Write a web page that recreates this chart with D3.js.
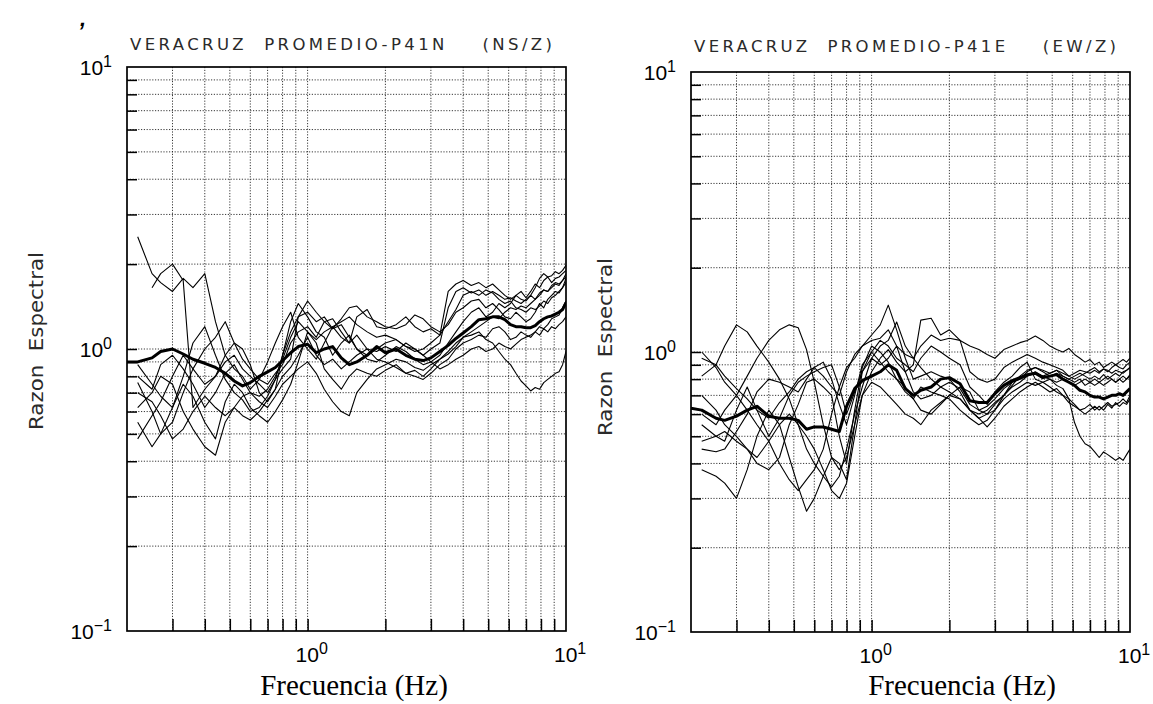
<!DOCTYPE html>
<html><head><meta charset="utf-8">
<script src="https://cdn.jsdelivr.net/npm/d3@7"></script>
<style>body{margin:0;background:#fff}svg{display:block}</style>
</head><body>
<svg id="c" width="1153" height="704"></svg>
<script>
// ---------- DATA ----------
const freqs = [0.2,0.22,0.25,0.27,0.3,0.33,0.36,0.4,0.44,0.48,
 0.52,0.56,0.6,0.65,0.7,0.75,0.8,0.86,0.92,1.0,
 1.08,1.16,1.25,1.35,1.45,1.55,1.7,1.85,
 2.0,2.2,2.4,2.6,2.8,3.0,3.25,3.5,3.75,4.0,
 4.3,4.6,4.9,5.2,5.5,5.8,6.1,6.4,6.7,7.0,
 7.3,7.6,7.9,8.2,8.5,8.8,9.1,9.4,9.7,10.0];

const panelTitles = ["VERACRUZ  PROMEDIO-P41N    (NS/Z)", "VERACRUZ  PROMEDIO-P41E    (EW/Z)"];
const xAxisTitle = "Frecuencia (Hz)";
const yAxisTitle = "Razon  Espectral";
const xDecades = [1, 10];
const xDecadeExp = ["0", "1"];
const yDecades = [10, 1, 0.1];
const yDecadeExp = ["1", "0", "\u22121"];
const xGrid = [0.3,0.4,0.5,0.6,0.7,0.8,0.9,1,2,3,4,5,6,7,8,9];
const yGrid = [0.2,0.3,0.4,0.5,0.6,0.7,0.8,0.9,1,2,3,4,5,6,7,8,9];

const nsMean = [0.90,0.90,0.93,0.98,1.00,0.96,0.92,0.89,0.86,0.82,
 0.77,0.74,0.76,0.80,0.83,0.86,0.91,0.97,1.02,1.04,
 0.97,1.00,1.02,0.93,0.88,0.90,0.95,1.02,
 0.97,1.00,0.95,0.92,0.91,0.93,0.98,1.03,1.09,1.14,
 1.20,1.27,1.28,1.30,1.30,1.27,1.22,1.20,1.20,1.19,
 1.19,1.21,1.25,1.28,1.30,1.31,1.33,1.35,1.38,1.46];
const ns1 = [null,2.50,1.85,1.72,1.60,1.78,1.65,1.85,1.25,0.95,
 0.85,0.80,0.72,0.78,0.90,1.05,1.20,1.35,1.10,1.00,
 0.92,1.05,1.20,1.10,1.05,1.30,1.38,1.20,
 1.18,1.22,1.30,1.20,1.15,1.18,1.12,1.60,1.70,1.75,
 1.68,1.72,1.65,1.70,1.62,1.55,1.50,1.55,1.50,1.48,
 1.55,1.65,1.78,1.85,1.80,1.82,1.88,1.85,1.90,1.98];
const ns2 = [null,null,1.65,1.85,2.00,1.75,0.62,0.72,0.80,0.95,
 1.05,1.00,0.88,0.70,0.65,0.72,0.95,1.25,1.45,1.30,
 1.15,1.10,0.95,1.05,1.12,1.00,0.92,0.90,
 0.95,1.02,0.98,0.92,0.88,0.90,0.95,1.05,1.15,1.25,
 1.35,1.40,1.30,1.35,1.45,1.40,1.45,1.55,1.60,1.52,
 1.60,1.70,1.65,1.75,1.80,1.72,1.78,1.80,1.85,1.90];
const ns3 = [null,0.76,0.60,0.50,0.55,0.70,0.85,1.00,1.10,1.25,
 1.05,0.92,0.85,0.78,0.75,0.82,0.88,1.05,1.15,1.20,
 1.10,1.25,1.28,1.15,1.05,1.12,1.00,0.92,
 0.90,0.86,0.82,0.84,0.80,0.85,0.92,0.98,1.05,1.10,
 1.12,1.15,1.08,1.05,0.98,0.92,0.88,0.82,0.77,0.74,
 0.71,0.73,0.72,0.76,0.78,0.80,0.82,0.83,0.88,0.98];
const ns4 = [null,0.88,0.75,0.68,0.62,0.80,1.05,1.20,0.95,0.78,
 0.70,0.66,0.60,0.62,0.68,0.78,0.85,0.92,1.30,1.48,
 1.35,1.25,1.18,1.28,1.40,1.42,1.30,1.25,
 1.20,1.18,1.22,1.32,1.28,1.20,1.15,1.22,1.35,1.40,
 1.48,1.50,1.40,1.45,1.38,1.30,1.28,1.35,1.30,1.25,
 1.28,1.35,1.45,1.40,1.50,1.55,1.60,1.58,1.65,1.78];
const ns5 = [null,0.55,0.45,0.50,0.62,0.75,0.68,0.55,0.48,0.65,
 0.75,0.70,0.62,0.58,0.55,0.60,0.66,0.75,0.90,1.15,
 1.05,0.85,0.78,0.72,0.80,0.85,0.82,0.80,
 0.84,0.88,0.82,0.80,0.78,0.82,0.88,0.92,1.00,1.05,
 1.08,1.12,1.10,1.18,1.20,1.15,1.08,1.10,1.15,1.12,
 1.10,1.15,1.20,1.18,1.22,1.28,1.30,1.32,1.40,1.48];
const ns6 = [null,0.62,0.70,0.80,0.75,0.60,0.52,0.45,0.42,0.55,
 0.62,0.68,0.70,0.65,0.62,0.68,0.75,0.80,0.85,0.90,
 0.82,0.72,0.65,0.60,0.58,0.70,0.78,0.85,
 0.88,0.92,0.90,0.86,0.84,0.88,0.92,0.96,1.02,1.10,
 1.15,1.20,1.25,1.30,1.28,1.35,1.40,1.38,1.42,1.40,
 1.45,1.50,1.55,1.62,1.60,1.68,1.72,1.70,1.75,1.85];
const ns7 = [null,0.48,0.58,0.65,0.80,0.95,0.85,0.75,0.80,0.90,
 0.95,0.85,0.80,0.75,0.70,0.78,0.95,1.15,1.30,1.35,
 1.25,1.30,1.18,1.22,1.10,1.00,0.95,1.00,
 1.05,1.08,1.02,0.98,1.00,1.05,1.12,1.25,1.38,1.55,
 1.60,1.55,1.62,1.58,1.50,1.45,1.48,1.40,1.38,1.35,
 1.40,1.38,1.42,1.48,1.45,1.52,1.55,1.60,1.65,1.72];
const ns8 = [null,0.70,0.65,0.58,0.48,0.52,0.60,0.68,0.62,0.58,
 0.62,0.58,0.56,0.60,0.66,0.72,0.80,0.86,0.95,1.10,
 0.95,0.88,0.92,0.85,0.90,0.95,1.00,0.98,
 1.02,0.98,1.05,1.00,0.95,0.90,0.85,0.88,0.92,0.95,
 1.00,1.02,0.98,1.00,1.05,1.02,1.00,1.04,1.08,1.10,
 1.12,1.15,1.12,1.18,1.15,1.20,1.18,1.22,1.25,1.30];
const ns9 = [null,0.80,0.72,0.88,0.95,0.85,0.75,0.62,0.70,0.82,
 0.88,0.78,0.70,0.68,0.72,0.80,0.92,1.10,1.25,1.15,
 1.08,1.15,1.20,1.25,1.30,1.22,1.15,1.10,
 1.12,1.08,1.02,1.00,0.95,1.00,1.05,1.40,1.60,1.65,
 1.58,1.62,1.55,1.60,1.55,1.50,1.52,1.48,1.45,1.50,
 1.55,1.50,1.58,1.62,1.60,1.65,1.70,1.68,1.75,1.80];

const ewMean = [0.63,0.62,0.58,0.57,0.59,0.62,0.64,0.59,0.58,0.58,
 0.57,0.53,0.54,0.54,0.53,0.52,0.64,0.74,0.79,0.82,
 0.85,0.90,0.86,0.74,0.70,0.73,0.75,0.80,
 0.81,0.77,0.67,0.66,0.66,0.71,0.76,0.79,0.81,0.83,
 0.84,0.81,0.82,0.83,0.80,0.78,0.76,0.73,0.72,0.70,
 0.69,0.69,0.68,0.69,0.70,0.70,0.71,0.70,0.72,0.74];
const ew1 = [null,0.95,0.90,0.82,0.74,0.68,0.62,0.58,0.66,0.72,
 0.80,0.85,0.88,0.82,0.75,0.70,0.85,0.98,1.05,1.10,
 1.12,1.20,1.05,0.98,0.95,1.05,1.15,1.10,
 1.12,1.10,1.05,1.02,0.98,0.95,1.02,1.05,1.08,1.10,
 1.14,1.10,1.05,1.02,1.00,1.03,0.98,0.95,0.92,0.94,
 0.90,0.92,0.88,0.90,0.92,0.90,0.92,0.94,0.92,0.95];
const ew2 = [null,0.82,0.90,1.05,1.25,1.18,1.05,0.92,0.80,0.68,
 0.55,0.45,0.40,0.36,0.33,0.36,0.45,0.60,0.75,0.95,
 1.05,1.10,1.28,1.05,0.95,0.88,0.80,0.75,
 0.72,0.68,0.62,0.58,0.60,0.62,0.70,0.75,0.78,0.82,
 0.85,0.82,0.84,0.86,0.82,0.80,0.82,0.84,0.82,0.80,
 0.82,0.80,0.83,0.80,0.82,0.84,0.82,0.85,0.86,0.88];
const ew3 = [null,0.60,0.55,0.62,0.70,0.82,0.95,1.10,1.20,1.25,
 1.22,1.02,0.78,0.55,0.42,0.38,0.42,0.55,0.70,0.85,
 0.95,1.02,0.92,0.85,0.90,1.30,1.32,1.15,
 1.20,1.10,0.85,0.80,0.78,0.80,0.88,0.92,0.95,0.98,
 0.95,0.92,0.90,0.88,0.86,0.82,0.80,0.82,0.84,0.86,
 0.88,0.85,0.87,0.85,0.88,0.90,0.88,0.87,0.90,0.92];
const ew4 = [null,0.45,0.44,0.45,0.52,0.60,0.72,0.80,0.78,0.75,
 0.72,0.80,0.88,0.92,0.80,0.65,0.55,0.70,0.90,1.00,
 0.92,0.85,0.80,0.72,0.68,0.75,0.72,0.70,
 0.68,0.62,0.58,0.55,0.57,0.62,0.68,0.72,0.75,0.78,
 0.76,0.78,0.75,0.72,0.70,0.68,0.65,0.62,0.63,0.65,
 0.62,0.64,0.62,0.65,0.63,0.66,0.64,0.66,0.65,0.68];
const ew5 = [null,0.38,0.36,0.34,0.30,0.38,0.50,0.62,0.55,0.42,
 0.33,0.27,0.30,0.36,0.42,0.40,0.35,0.55,0.85,1.00,
 1.10,1.05,0.95,0.90,0.85,0.95,1.05,1.00,
 0.95,0.90,0.75,0.70,0.65,0.72,0.78,0.82,0.88,0.92,
 0.80,0.78,0.80,0.76,0.74,0.68,0.56,0.50,0.47,0.46,
 0.44,0.42,0.44,0.43,0.42,0.41,0.42,0.41,0.43,0.45];
const ew6 = [null,0.70,0.62,0.55,0.50,0.45,0.40,0.38,0.42,0.55,
 0.65,0.78,0.80,0.75,0.70,0.50,0.40,0.62,0.88,1.05,
 1.00,0.92,0.80,0.75,0.68,0.62,0.60,0.65,
 0.70,0.75,0.72,0.62,0.60,0.65,0.70,0.78,0.80,0.85,
 0.88,0.86,0.84,0.86,0.84,0.82,0.84,0.86,0.85,0.84,
 0.86,0.84,0.87,0.86,0.84,0.86,0.85,0.84,0.86,0.88];
const ew7 = [null,0.55,0.50,0.48,0.62,0.75,0.62,0.50,0.58,0.70,
 0.78,0.82,0.85,0.88,0.90,0.75,0.60,0.72,0.85,0.95,
 0.90,0.95,1.05,0.85,0.72,0.68,0.70,0.75,
 0.78,0.74,0.65,0.62,0.64,0.68,0.74,0.78,0.80,0.82,
 0.84,0.82,0.80,0.78,0.80,0.78,0.76,0.78,0.80,0.78,
 0.80,0.78,0.80,0.82,0.80,0.78,0.80,0.82,0.80,0.83];
const ew8 = [null,0.48,0.50,0.52,0.48,0.45,0.42,0.48,0.55,0.60,
 0.55,0.50,0.45,0.38,0.32,0.30,0.34,0.50,0.70,0.78,
 0.75,0.70,0.65,0.60,0.58,0.55,0.62,0.66,
 0.70,0.68,0.62,0.58,0.54,0.58,0.64,0.68,0.72,0.75,
 0.78,0.75,0.72,0.74,0.70,0.66,0.64,0.62,0.60,0.62,
 0.64,0.62,0.64,0.66,0.64,0.65,0.66,0.68,0.66,0.70];
const ew9 = [null,1.00,0.88,0.78,0.70,0.62,0.55,0.48,0.40,0.35,
 0.32,0.35,0.38,0.45,0.60,0.75,0.88,0.95,1.05,1.15,
 1.25,1.47,1.20,0.95,0.80,0.82,0.85,0.82,
 0.80,0.72,0.62,0.60,0.62,0.66,0.70,0.76,0.82,0.86,
 0.88,0.85,0.82,0.84,0.82,0.80,0.78,0.80,0.76,0.78,
 0.76,0.78,0.76,0.78,0.80,0.78,0.80,0.78,0.80,0.82];

// ---------- LAYOUT ----------
const panels = [
  {x0:127, x1:566, y0:67, y1:631, titleY:49.5, title:panelTitles[0], mean:nsMean,
   lines:[ns1,ns2,ns3,ns4,ns5,ns6,ns7,ns8,ns9], xlabX:354, ylabX:43, ylabY:341},
  {x0:691, x1:1130, y0:72, y1:632, titleY:52, title:panelTitles[1], mean:ewMean,
   lines:[ew1,ew2,ew3,ew4,ew5,ew6,ew7,ew8,ew9], xlabX:962, ylabX:612, ylabY:347}
];

const svg = d3.select("#c");
const sans = "'Liberation Sans', Arial, sans-serif";
const plot = "'DejaVu Sans', Verdana, sans-serif";

panels.forEach((p, i) => {
  const x = d3.scaleLog().domain([0.2, 10]).range([p.x0, p.x1]);
  const y = d3.scaleLog().domain([0.1, 10]).range([p.y1, p.y0]);
  const g = svg.append("g");

  g.append("clipPath").attr("id", "clip" + i).append("rect")
    .attr("x", p.x0).attr("y", p.y0).attr("width", p.x1 - p.x0).attr("height", p.y1 - p.y0);

  // dotted grid
  g.selectAll(".gx").data(xGrid).join("line")
    .attr("x1", d => x(d)).attr("x2", d => x(d)).attr("y1", p.y0).attr("y2", p.y1)
    .attr("stroke", "#222").attr("stroke-width", 0.9).attr("stroke-dasharray", "1.2,1.6");
  g.selectAll(".gy").data(yGrid).join("line")
    .attr("y1", d => y(d)).attr("y2", d => y(d)).attr("x1", p.x0).attr("x2", p.x1)
    .attr("stroke", "#222").attr("stroke-width", 0.9).attr("stroke-dasharray", "1.2,1.6");

  // inward ticks
  const bx = g.append("g").attr("transform", `translate(0,${p.y1})`)
    .call(d3.axisBottom(x).tickValues(xGrid).tickSize(-12).tickFormat(""));
  bx.select(".domain").remove();
  bx.selectAll("line").attr("stroke-width", 1.5);
  const ly = g.append("g").attr("transform", `translate(${p.x0},0)`)
    .call(d3.axisLeft(y).tickValues(yGrid).tickSize(-10).tickFormat(""));
  ly.select(".domain").remove();
  ly.selectAll("line").attr("stroke-width", 1.5);

  // data lines
  const line = d3.line().defined(d => d[1] != null)
    .x(d => x(d[0])).y(d => y(d[1]));
  const lg = g.append("g").attr("clip-path", `url(#clip${i})`);
  p.lines.forEach(s => {
    lg.append("path").attr("d", line(freqs.map((f, k) => [f, s[k]])))
      .attr("fill", "none").attr("stroke", "#000").attr("stroke-width", 1.1)
      .attr("stroke-linejoin", "round");
  });
  lg.append("path").attr("d", line(freqs.map((f, k) => [f, p.mean[k]])))
    .attr("fill", "none").attr("stroke", "#000").attr("stroke-width", 3)
    .attr("stroke-linejoin", "round");

  // frame
  g.append("rect").attr("x", p.x0).attr("y", p.y0).attr("width", p.x1 - p.x0).attr("height", p.y1 - p.y0)
    .attr("fill", "none").attr("stroke", "#000").attr("stroke-width", 1.7);

  // title
  g.append("text").attr("x", p.x0 + 3).attr("y", p.titleY)
    .attr("font-family", plot).attr("font-size", 16.5).attr("fill", "#2a2a2a")
    .attr("textLength", 422).attr("lengthAdjust", "spacing")
    .style("white-space", "pre").text(p.title);

  // y decade labels
  yDecades.forEach((v, k) => {
    const t = g.append("text").attr("x", p.x0 - 15).attr("y", y(v) + 8)
      .attr("text-anchor", "end").attr("font-family", sans).attr("font-size", 21).attr("fill", "#000");
    t.append("tspan").text("10");
    t.append("tspan").attr("dy", -8).attr("font-size", 16).text(yDecadeExp[k]);
  });
  // x decade labels
  xDecades.forEach((v, k) => {
    const t = g.append("text").attr("x", x(v) - 12).attr("y", p.y1 + 31)
      .attr("font-family", sans).attr("font-size", 21).attr("fill", "#000");
    t.append("tspan").text("10");
    t.append("tspan").attr("dy", -8).attr("font-size", 16).text(xDecadeExp[k]);
  });

  // axis titles
  g.append("text").attr("x", p.xlabX).attr("y", 695).attr("text-anchor", "middle")
    .attr("font-family", "'Liberation Serif', 'Times New Roman', serif").attr("font-size", 29)
    .attr("fill", "#000").text(xAxisTitle);
  g.append("text").attr("transform", `translate(${p.ylabX},${p.ylabY}) rotate(-90)`)
    .attr("text-anchor", "middle").attr("font-family", plot).attr("font-size", 19).attr("fill", "#2a2a2a")
    .attr("textLength", 178).attr("lengthAdjust", "spacingAndGlyphs")
    .style("white-space", "pre").text(yAxisTitle);
});

// stray scan mark at the top-left
svg.append("text").attr("x", 80).attr("y", 26).attr("font-family", sans)
  .attr("font-size", 22).attr("font-weight", "bold").attr("font-style", "italic").text(",");
</script>
</body></html>
